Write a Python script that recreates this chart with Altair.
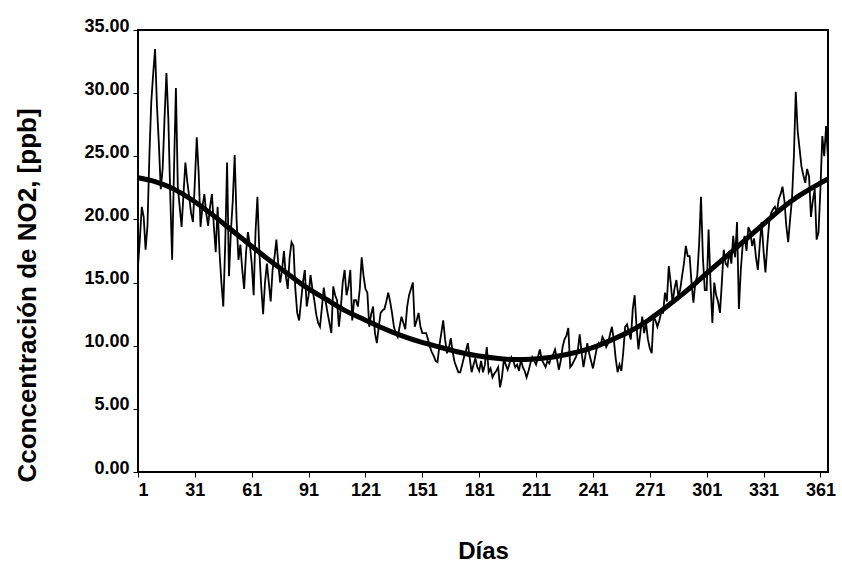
import altair as alt
import pandas as pd

# Daily NO2 concentration (ppb), days 1..365, in rows of ten days
no2_rows = [
    [16.3, 18.5, 21.0, 20.2, 17.6, 19.5, 25.0, 29.3, 31.5, 33.5],   # 1-10
    [29.0, 26.0, 22.4, 24.0, 28.0, 31.6, 28.0, 22.0, 16.8, 24.0],   # 11-20
    [30.4, 22.6, 21.0, 19.4, 22.0, 24.5, 23.0, 21.8, 20.5, 19.8],   # 21-30
    [23.0, 26.5, 23.7, 19.4, 21.0, 22.0, 20.5, 19.5, 21.0, 22.0],   # 31-40
    [19.5, 17.4, 21.0, 17.4, 15.0, 13.1, 18.0, 24.5, 15.5, 19.0],   # 41-50
    [21.5, 25.1, 20.0, 16.8, 18.0, 16.0, 14.5, 17.4, 19.0, 18.0],   # 51-60
    [16.5, 14.0, 19.0, 21.8, 17.5, 14.7, 12.5, 15.0, 16.5, 15.0],   # 61-70
    [13.5, 16.0, 17.0, 18.4, 16.5, 15.0, 16.0, 17.5, 15.5, 14.5],   # 71-80
    [17.0, 18.2, 17.9, 14.5, 12.6, 12.0, 13.5, 15.0, 16.0, 13.1],   # 81-90
    [14.0, 15.6, 14.5, 13.6, 12.5, 11.8, 11.5, 13.0, 14.6, 13.5],   # 91-100
    [12.6, 11.8, 11.0, 14.7, 14.0, 13.6, 11.5, 13.0, 15.0, 16.0],   # 101-110
    [14.0, 14.7, 16.0, 12.0, 13.6, 13.6, 13.1, 14.5, 17.0, 15.5],   # 111-120
    [14.5, 14.2, 11.5, 12.5, 13.1, 11.0, 10.2, 11.5, 12.6, 12.8],   # 121-130
    [12.9, 13.5, 14.2, 13.5, 12.6, 11.5, 11.0, 10.7, 11.5, 12.3],   # 131-140
    [11.8, 11.3, 13.1, 14.0, 14.5, 15.0, 11.5, 12.0, 12.6, 11.5],   # 141-150
    [11.0, 11.0, 11.0, 10.5, 9.9, 9.5, 9.2, 8.8, 8.7, 10.0],        # 151-160
    [11.0, 12.0, 10.5, 9.4, 9.8, 10.6, 9.5, 8.7, 8.3, 7.9],         # 161-170
    [7.9, 8.5, 9.1, 9.6, 10.2, 9.0, 7.9, 8.5, 9.0, 8.3],            # 171-180
    [8.0, 8.8, 7.9, 8.5, 9.9, 7.9, 8.2, 7.5, 7.8, 8.0],             # 181-190
    [8.3, 6.7, 7.5, 8.9, 8.5, 8.1, 8.6, 9.1, 8.8, 8.3],             # 191-200
    [8.5, 8.0, 8.9, 8.3, 8.0, 7.5, 8.0, 8.6, 9.1, 8.8],             # 201-210
    [8.5, 9.1, 9.7, 8.9, 8.6, 8.3, 8.8, 8.6, 9.1, 9.3],             # 211-220
    [9.7, 9.0, 8.1, 8.8, 9.9, 10.5, 10.8, 11.4, 8.3, 8.5],          # 221-230
    [8.8, 9.1, 9.6, 10.9, 9.5, 8.3, 9.2, 10.2, 9.4, 8.8],           # 231-240
    [8.2, 9.0, 9.8, 10.2, 10.0, 10.7, 10.4, 9.9, 10.2, 10.9],       # 241-250
    [11.5, 10.5, 9.0, 7.9, 8.5, 8.0, 9.5, 11.5, 11.7, 11.0],        # 251-260
    [10.5, 12.9, 14.0, 11.5, 9.7, 11.0, 12.3, 11.0, 11.8, 10.5],    # 261-270
    [9.8, 9.4, 12.3, 12.0, 11.5, 12.0, 12.6, 12.6, 14.2, 13.5],     # 271-280
    [16.3, 15.0, 13.4, 14.5, 15.2, 14.0, 14.4, 15.5, 16.5, 17.9],   # 281-290
    [17.1, 17.1, 15.0, 13.4, 15.0, 15.5, 18.0, 21.8, 17.0, 14.4],   # 291-300
    [14.4, 19.2, 15.0, 11.8, 15.0, 14.0, 13.5, 12.6, 15.0, 17.6],   # 301-310
    [16.5, 16.3, 17.5, 16.5, 18.7, 17.0, 19.8, 12.9, 16.0, 18.0],   # 311-320
    [18.7, 17.5, 19.4, 19.0, 17.9, 18.5, 17.0, 16.0, 18.0, 19.8],   # 321-330
    [17.5, 15.8, 18.0, 19.8, 20.5, 20.8, 21.0, 20.5, 21.6, 22.0],   # 331-340
    [22.6, 21.5, 19.5, 18.2, 20.0, 21.6, 25.0, 30.1, 27.0, 25.6],   # 341-350
    [24.2, 23.5, 22.9, 24.0, 23.4, 20.2, 21.5, 22.4, 18.4, 19.0],   # 351-360
    [22.4, 26.6, 25.0, 27.4, 24.8],                                 # 361-365
]
no2_values = [v for row in no2_rows for v in row]
days = list(range(1, len(no2_values) + 1))

# Seasonal trend curve (ppb) at selected days
trend_days = [1, 10, 20, 30, 40, 50, 60, 70, 80, 90, 100, 110, 120, 130,
              140, 150, 160, 170, 180, 190, 200, 210, 220, 230, 240, 250,
              260, 270, 280, 290, 300, 310, 320, 330, 340, 350, 360, 365]
trend_values = [23.3, 23.0, 22.4, 21.5, 20.4, 19.2, 18.0, 16.8, 15.7, 14.6,
                13.7, 12.8, 12.1, 11.4, 10.8, 10.3, 9.9, 9.5, 9.2, 9.0,
                8.9, 8.95, 9.1, 9.4, 9.8, 10.4, 11.1, 12.0, 13.1, 14.3,
                15.6, 16.9, 18.2, 19.5, 20.8, 21.9, 22.8, 23.2]

x_ticks = [1, 31, 61, 91, 121, 151, 181, 211, 241, 271, 301, 331, 361]
y_ticks = [0, 5, 10, 15, 20, 25, 30, 35]

daily = pd.DataFrame({"dia": days, "no2": no2_values})
trend = pd.DataFrame({"dia": trend_days, "no2": trend_values})

FONT = "Liberation Sans"

x_enc = alt.X(
    "dia:Q",
    scale=alt.Scale(domain=[1, 365], nice=False, zero=False),
    axis=alt.Axis(
        title="Días", values=x_ticks, format="d", grid=False, domain=False,
        tickSize=5, tickColor="black", labelPadding=4,
        labelFont=FONT, labelFontSize=18, labelFontWeight="bold", labelColor="black",
        titleFont=FONT, titleFontSize=24, titleFontWeight="bold", titleColor="black",
        titleY=79, titleBaseline="middle",
    ),
)
y_enc = alt.Y(
    "no2:Q",
    scale=alt.Scale(domain=[0, 35], nice=False),
    axis=alt.Axis(
        title="Cconcentración de NO2, [ppb]", values=y_ticks, format=".2f",
        grid=False, domain=False, tickSize=5, tickColor="black", labelPadding=4,
        labelOffset=-4,
        labelFont=FONT, labelFontSize=18, labelFontWeight="bold", labelColor="black",
        titleFont=FONT, titleFontSize=26, titleFontWeight="bold", titleColor="black",
        titleX=-111, titleY=265, titleAngle=-90, titleBaseline="middle",
    ),
)

daily_line = alt.Chart(daily).mark_line(color="black", strokeWidth=1.8).encode(
    x=x_enc, y=y_enc
)
trend_line = alt.Chart(trend).mark_line(
    color="black", strokeWidth=5, interpolate="natural"
).encode(x="dia:Q", y="no2:Q")

chart = (
    alt.layer(daily_line, trend_line)
    .properties(
        width=690, height=442,
        autosize=alt.AutoSizeParams(type="none"),
        padding={"left": 138, "top": 30, "right": 14, "bottom": 108},
        background="white",
    )
    .configure_view(stroke="black", strokeWidth=2)
)

chart.save("out.html", embed_options={"renderer": "svg", "actions": False})
